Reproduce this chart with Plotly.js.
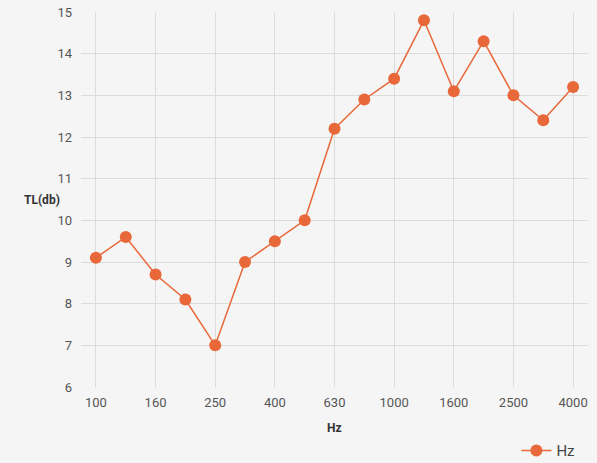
<!DOCTYPE html>
<html>
<head>
<meta charset="utf-8">
<script src="https://cdn.plot.ly/plotly-3.0.1.min.js"></script>
<style>html,body{margin:0;padding:0;background:#f5f5f5;}</style>
</head>
<body>
<div id="chart" style="width:597px;height:463px;"></div>
<script>
const frequencies = ['100','125','160','200','250','315','400','500','630','800','1000','1250','1600','2000','2500','3150','4000'];
const tlValues = [9.1, 9.6, 8.7, 8.1, 7.0, 9.0, 9.5, 10.0, 12.2, 12.9, 13.4, 14.8, 13.1, 14.3, 13.0, 12.4, 13.2];
const xTickLabels = ['100','160','250','400','630','1000','1600','2500','4000'];
const yTickValues = [6, 7, 8, 9, 10, 11, 12, 13, 14, 15];

const trace = {
  x: frequencies,
  y: tlValues,
  type: 'scatter',
  mode: 'lines+markers',
  name: 'Hz',
  line: {color: '#e8683a', width: 1.5},
  marker: {color: '#e8683a', size: 12}
};

const layout = {
  width: 597, height: 463,
  margin: {l: 81, r: 9, t: 12, b: 76, autoexpand: false},
  paper_bgcolor: '#f5f5f5',
  plot_bgcolor: '#f5f5f5',
  font: {family: 'Roboto, sans-serif', color: '#555', size: 13},
  xaxis: {
    type: 'category',
    range: [-0.5, 16.5],
    tickvals: xTickLabels,
    ticktext: xTickLabels,
    showgrid: true, gridcolor: '#dcdcdc', gridwidth: 1,
    zeroline: false, showline: false,
    ticks: '', ticklabelstandoff: 6,
    tickfont: {size: 13, color: '#555'}
  },
  yaxis: {
    range: [6, 15],
    tickvals: yTickValues,
    showgrid: true, gridcolor: '#dcdcdc', gridwidth: 1,
    zeroline: false, showline: false,
    ticks: '', ticklabelstandoff: 8,
    tickfont: {size: 13, color: '#555'}
  },
  showlegend: true,
  legend: {
    orientation: 'h', x: 0.985, xanchor: 'right', y: -0.17, yanchor: 'middle',
    font: {size: 15, color: '#444'}, bgcolor: 'rgba(0,0,0,0)'
  },
  annotations: [
    {text: 'TL(db)', xref: 'paper', yref: 'paper', x: -0.077, y: 0.498, xanchor: 'center', yanchor: 'middle',
     showarrow: false, font: {size: 12, color: '#333', family: 'Roboto, sans-serif', weight: 'bold'}},
    {text: 'Hz', xref: 'paper', yref: 'paper', x: 0.500, y: -0.109, xanchor: 'center', yanchor: 'middle',
     showarrow: false, font: {size: 12, color: '#333', family: 'Roboto, sans-serif', weight: 'bold'}}
  ]
};

Plotly.newPlot('chart', [trace], layout, {displayModeBar: false});
</script>
</body>
</html>
